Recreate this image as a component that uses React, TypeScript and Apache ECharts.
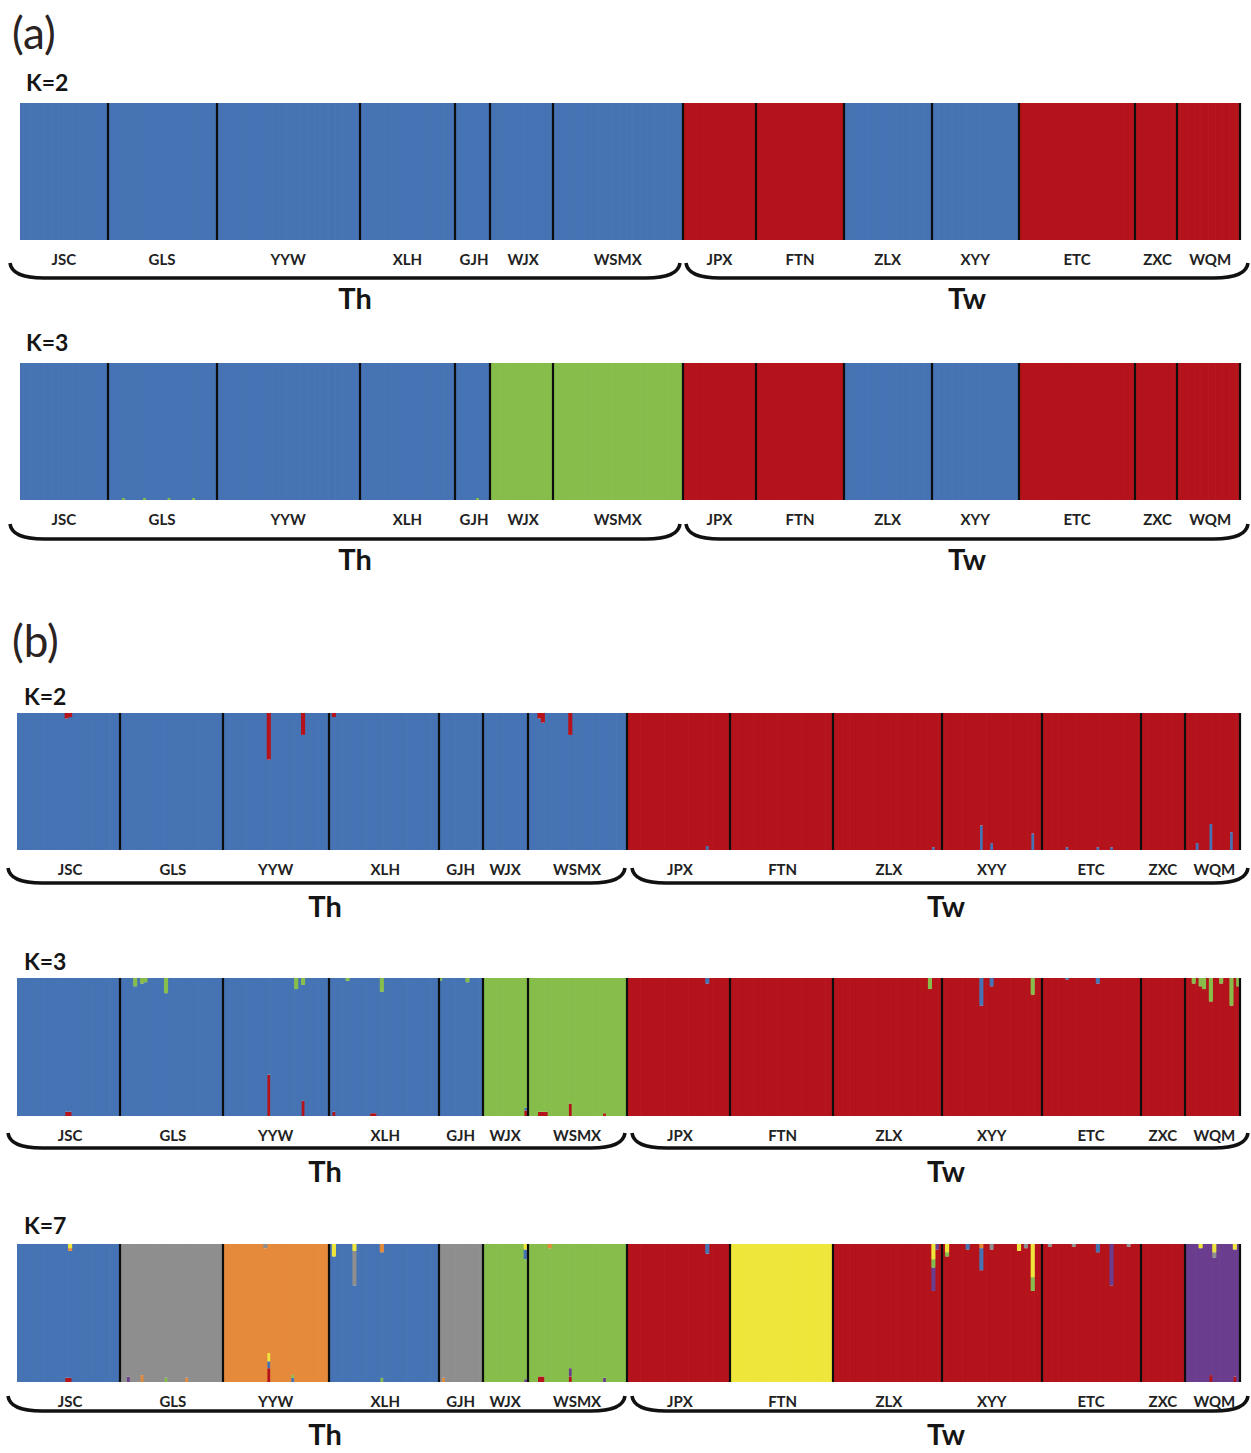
import React, { useEffect, useRef } from "react";
import * as echarts from "echarts";

// ---------- DATA ----------
const POPS = ["JSC", "GLS", "YYW", "XLH", "GJH", "WJX", "WSMX", "JPX", "FTN", "ZLX", "XYY", "ETC", "ZXC", "WQM"];
// individuals per population (a) and (b)
const SIZES_A = [25, 31, 41, 27, 10, 18, 37, 21, 25, 25, 25, 33, 12, 18];
const SIZES_B = [30, 30, 31, 32, 13, 13, 29, 30, 30, 32, 29, 29, 13, 16];

const BLUE = "#4573B3";
const RED = "#B5131C";
const GREEN = "#86BD4B";
const GRAY = "#8E8E8E";
const ORANGE = "#E5893B";
const YELLOW = "#EEE63A";
const PURPLE = "#6A3D8F";

// [population index, individual index in population, cluster, share, position t=top / b=bottom]
type Mix = [number, number, number, number, string];

// (a) K=2
const A_K2_CLUSTERS = [BLUE, RED];
const A_K2_MAIN = [0, 0, 0, 0, 0, 0, 0, 1, 1, 0, 0, 1, 1, 1];
const A_K2_MIX: Mix[] = [];

// (a) K=3
const A_K3_CLUSTERS = [BLUE, RED, GREEN];
const A_K3_MAIN = [0, 0, 0, 0, 0, 2, 2, 1, 1, 0, 0, 1, 1, 1];
const A_K3_MIX: Mix[] = [
  [1, 4, 2, 0.015, "b"], [1, 10, 2, 0.015, "b"], [1, 17, 2, 0.015, "b"], [1, 24, 2, 0.015, "b"],
  [4, 6, 2, 0.015, "b"],
];

// (b) K=2
const B_K2_CLUSTERS = [BLUE, RED];
const B_K2_MAIN = [0, 0, 0, 0, 0, 0, 0, 1, 1, 1, 1, 1, 1, 1];
const B_K2_MIX: Mix[] = [
  [0, 14, 1, 0.04, "t"], [0, 15, 1, 0.03, "t"],
  [2, 13, 1, 0.34, "t"], [2, 23, 1, 0.16, "t"],
  [3, 1, 1, 0.03, "t"],
  [6, 3, 1, 0.04, "t"], [6, 4, 1, 0.07, "t"], [6, 12, 1, 0.16, "t"],
  [7, 23, 0, 0.03, "b"],
  [9, 29, 0, 0.02, "b"],
  [10, 11, 0, 0.18, "b"], [10, 14, 0, 0.05, "b"], [10, 26, 0, 0.12, "b"],
  [11, 7, 0, 0.02, "b"], [11, 16, 0, 0.02, "b"], [11, 20, 0, 0.02, "b"],
  [13, 3, 0, 0.05, "b"], [13, 7, 0, 0.19, "b"], [13, 13, 0, 0.13, "b"],
];

// (b) K=3
const B_K3_CLUSTERS = [RED, BLUE, GREEN];
const B_K3_MAIN = [1, 1, 1, 1, 1, 2, 2, 0, 0, 0, 0, 0, 0, 0];
const B_K3_MIX: Mix[] = [
  [0, 14, 0, 0.03, "b"], [0, 15, 0, 0.03, "b"],
  [1, 4, 2, 0.06, "t"], [1, 6, 2, 0.04, "t"], [1, 7, 2, 0.03, "t"], [1, 13, 2, 0.11, "t"],
  [2, 21, 2, 0.08, "t"], [2, 23, 2, 0.05, "t"], [2, 13, 0, 0.3, "b"], [2, 23, 0, 0.11, "b"],
  [3, 1, 0, 0.03, "b"], [3, 5, 2, 0.02, "t"], [3, 12, 0, 0.02, "b"], [3, 13, 0, 0.02, "b"], [3, 15, 2, 0.1, "t"],
  [4, 0, 2, 0.02, "t"], [4, 8, 2, 0.03, "t"],
  [5, 12, 0, 0.04, "b"], [5, 12, 1, 0.02, "b"],
  [6, 3, 0, 0.03, "b"], [6, 4, 0, 0.03, "b"], [6, 5, 0, 0.03, "b"], [6, 12, 0, 0.09, "b"], [6, 22, 0, 0.02, "b"],
  [7, 23, 1, 0.04, "t"],
  [9, 28, 2, 0.08, "t"],
  [10, 11, 1, 0.2, "t"], [10, 14, 1, 0.06, "t"], [10, 26, 2, 0.12, "t"],
  [11, 7, 1, 0.01, "t"], [11, 16, 1, 0.04, "t"],
  [13, 2, 2, 0.04, "t"], [13, 4, 2, 0.06, "t"], [13, 5, 2, 0.08, "t"], [13, 7, 2, 0.17, "t"],
  [13, 10, 2, 0.04, "t"], [13, 13, 2, 0.2, "t"], [13, 15, 2, 0.06, "t"],
];

// (b) K=7
const B_K7_CLUSTERS = [RED, PURPLE, BLUE, GRAY, ORANGE, GREEN, YELLOW];
const B_K7_MAIN = [2, 3, 4, 2, 3, 5, 5, 0, 6, 0, 0, 0, 0, 1];
const B_K7_MIX: Mix[] = [
  [0, 15, 6, 0.03, "t"], [0, 15, 4, 0.02, "t"], [0, 14, 0, 0.03, "b"], [0, 15, 0, 0.03, "b"],
  [1, 2, 1, 0.04, "b"], [1, 6, 4, 0.05, "b"], [1, 13, 5, 0.03, "b"], [1, 19, 4, 0.03, "b"],
  [2, 12, 3, 0.03, "t"], [2, 13, 0, 0.1, "b"], [2, 13, 2, 0.05, "b"], [2, 13, 6, 0.06, "b"],
  [2, 20, 2, 0.03, "b"], [2, 20, 5, 0.02, "b"],
  [3, 1, 6, 0.09, "t"], [3, 7, 3, 0.25, "t"], [3, 7, 6, 0.05, "t"], [3, 15, 4, 0.06, "t"], [3, 15, 5, 0.03, "b"],
  [4, 1, 4, 0.03, "b"],
  [5, 12, 6, 0.04, "t"], [5, 12, 2, 0.07, "t"], [5, 12, 1, 0.02, "b"],
  [6, 6, 4, 0.03, "t"], [6, 3, 0, 0.04, "b"], [6, 4, 0, 0.04, "b"], [6, 12, 0, 0.04, "b"], [6, 12, 1, 0.06, "b"],
  [6, 22, 1, 0.03, "b"],
  [7, 23, 2, 0.07, "t"],
  [9, 29, 6, 0.11, "t"], [9, 29, 5, 0.06, "t"], [9, 29, 1, 0.17, "t"], [9, 30, 1, 0.04, "t"],
  [10, 1, 6, 0.06, "t"], [10, 1, 5, 0.03, "t"], [10, 7, 2, 0.04, "t"], [10, 11, 4, 0.03, "t"], [10, 11, 2, 0.16, "t"],
  [10, 14, 3, 0.04, "t"], [10, 22, 6, 0.05, "t"], [10, 24, 3, 0.03, "t"], [10, 26, 6, 0.24, "t"], [10, 26, 5, 0.1, "t"],
  [11, 2, 3, 0.02, "t"], [11, 16, 2, 0.06, "t"], [11, 20, 1, 0.3, "t"], [11, 9, 3, 0.02, "t"], [11, 25, 3, 0.02, "t"],
  [13, 4, 6, 0.03, "t"], [13, 8, 6, 0.06, "t"], [13, 8, 3, 0.04, "t"], [13, 14, 6, 0.04, "t"],
  [13, 7, 0, 0.05, "b"], [13, 14, 0, 0.04, "b"],
];

// ---------- LAYOUT ----------
const FONT = "Lato, 'Open Sans', sans-serif";

type Panel = {
  sizes: number[]; clusters: string[]; main: number[]; mix: Mix[];
  left: number; top: number; width: number; height: number;
  title: string; titleX: number; titleY: number;
  braceY: number; groupY: number;
  thL: number; thR: number; twL: number; twR: number; thX: number; twX: number;
};

const PANELS: Panel[] = [
  { sizes: SIZES_A, clusters: A_K2_CLUSTERS, main: A_K2_MAIN, mix: A_K2_MIX,
    left: 20, top: 103, width: 1220, height: 137, title: "K=2", titleX: 26, titleY: 82,
    braceY: 278, groupY: 297, thL: 10, thR: 680, twL: 686, twR: 1248, thX: 355, twX: 967 },
  { sizes: SIZES_A, clusters: A_K3_CLUSTERS, main: A_K3_MAIN, mix: A_K3_MIX,
    left: 20, top: 363, width: 1220, height: 137, title: "K=3", titleX: 26, titleY: 342,
    braceY: 539, groupY: 558, thL: 10, thR: 680, twL: 686, twR: 1248, thX: 355, twX: 967 },
  { sizes: SIZES_B, clusters: B_K2_CLUSTERS, main: B_K2_MAIN, mix: B_K2_MIX,
    left: 17, top: 713, width: 1223, height: 137, title: "K=2", titleX: 24, titleY: 696,
    braceY: 883, groupY: 905, thL: 8, thR: 625, twL: 632, twR: 1248, thX: 325, twX: 946 },
  { sizes: SIZES_B, clusters: B_K3_CLUSTERS, main: B_K3_MAIN, mix: B_K3_MIX,
    left: 17, top: 978, width: 1223, height: 138, title: "K=3", titleX: 24, titleY: 961,
    braceY: 1148, groupY: 1170, thL: 8, thR: 625, twL: 632, twR: 1248, thX: 325, twX: 946 },
  { sizes: SIZES_B, clusters: B_K7_CLUSTERS, main: B_K7_MAIN, mix: B_K7_MIX,
    left: 17, top: 1244, width: 1223, height: 138, title: "K=7", titleX: 24, titleY: 1225,
    braceY: 1411, groupY: 1433, thL: 8, thR: 625, twL: 632, twR: 1248, thX: 325, twX: 946 },
];

function brace(xl: number, xr: number, y: number): any {
  const rise = 15;
  const run = 34;
  const st = { stroke: "#111", lineWidth: 3.6, fill: null };
  return {
    type: "group",
    children: [
      { type: "bezierCurve", shape: { x1: xl, y1: y - rise, x2: xl + run, y2: y, cpx1: xl + 2, cpy1: y }, style: st },
      { type: "line", shape: { x1: xl + run, y1: y, x2: xr - run, y2: y }, style: st },
      { type: "bezierCurve", shape: { x1: xr - run, y1: y, x2: xr, y2: y - rise, cpx1: xr - 2, cpy1: y }, style: st },
    ],
  };
}

function buildOption(): any {
  const grids: any[] = [];
  const xAxes: any[] = [];
  const yAxes: any[] = [];
  const series: any[] = [];
  const graphics: any[] = [
    { type: "text", x: 12, y: 32, style: { text: "(a)", font: `44px ${FONT}`, fill: "#2b2222", verticalAlign: "middle" } },
    { type: "text", x: 12, y: 640, style: { text: "(b)", font: `44px ${FONT}`, fill: "#2b2222", verticalAlign: "middle" } },
  ];

  PANELS.forEach((pn, pi) => {
    const starts: number[] = [];
    let s = 0;
    pn.sizes.forEach((n) => { starts.push(s); s += n; });
    const N = s;
    const K = pn.clusters.length;
    const cats: string[] = [];
    const popOf: number[] = [];
    pn.sizes.forEach((n, p) => {
      for (let i = 0; i < n; i++) { cats.push(POPS[p] + "_" + (i + 1)); popOf.push(p); }
    });
    const bottom: (number | null)[][] = pn.clusters.map(() => new Array(N).fill(null));
    const top: (number | null)[][] = pn.clusters.map(() => new Array(N).fill(null));
    const mainL: (number | null)[][] = pn.clusters.map(() => new Array(N).fill(null));
    const used = new Array(N).fill(0);
    pn.mix.forEach(([p, i, c, v, pos]) => {
      const g = starts[p] + i;
      const arr = pos === "t" ? top : bottom;
      arr[c][g] = (arr[c][g] || 0) + v;
      used[g] += v;
    });
    for (let g = 0; g < N; g++) {
      mainL[pn.main[popOf[g]]][g] = +(1 - used[g]).toFixed(4);
    }
    const boundary = new Set(starts.slice(1));
    const labelIdx = new Set(starts.map((st, p) => st + Math.floor(pn.sizes[p] / 2)));
    // bars slightly wider than their band so that neighbours overlap (no anti-alias seams)
    const barW = pn.width / N + 0.7;

    grids.push({ left: pn.left, top: pn.top, width: pn.width, height: pn.height, containLabel: false });
    xAxes.push({
      type: "category", gridIndex: pi, data: cats, z: 6,
      axisLine: { show: false }, axisTick: { show: false },
      axisLabel: {
        interval: (idx: number) => labelIdx.has(idx),
        formatter: (v: string) => v.split("_")[0],
        fontFamily: FONT, fontWeight: "bold", fontSize: 15, color: "#222", margin: 11,
      },
      splitLine: {
        show: true,
        interval: (idx: number) => boundary.has(idx),
        lineStyle: { color: "#0d0d0d", width: 2.2 },
      },
    });
    yAxes.push({ type: "value", gridIndex: pi, min: 0, max: 1, show: false, splitLine: { show: false } });

    const layers: [(number | null)[][], string][] = [[bottom, "b"], [mainL, "m"], [top, "t"]];
    layers.forEach(([arr, tag]) => {
      for (let c = 0; c < K; c++) {
        if (arr[c].every((v) => v === null)) continue;
        series.push({
          type: "bar", name: `p${pi}_${tag}_${c}`, xAxisIndex: pi, yAxisIndex: pi,
          stack: "s" + pi, data: arr[c], barWidth: barW,
          itemStyle: { color: pn.clusters[c] }, silent: true,
        });
      }
    });

    graphics.push({ type: "text", x: pn.titleX, y: pn.titleY, style: { text: pn.title, font: `bold 23px ${FONT}`, fill: "#151515", verticalAlign: "middle" } });
    graphics.push(brace(pn.thL, pn.thR, pn.braceY));
    graphics.push(brace(pn.twL, pn.twR, pn.braceY));
    graphics.push({ type: "text", x: pn.thX, y: pn.groupY, style: { text: "Th", font: `bold 29px ${FONT}`, fill: "#151515", align: "center", verticalAlign: "middle" } });
    graphics.push({ type: "text", x: pn.twX, y: pn.groupY, style: { text: "Tw", font: `bold 29px ${FONT}`, fill: "#151515", align: "center", verticalAlign: "middle" } });
  });

  return {
    animation: false,
    backgroundColor: "#ffffff",
    grid: grids, xAxis: xAxes, yAxis: yAxes, series,
    graphic: { elements: graphics },
  };
}

export default function App() {
  const ref = useRef<HTMLDivElement>(null);
  useEffect(() => {
    if (!ref.current) return;
    const chart = echarts.init(ref.current, null, { renderer: "svg" });
    chart.setOption(buildOption());
    return () => chart.dispose();
  }, []);
  return <div ref={ref} style={{ position: "absolute", left: 0, top: 0, width: 1251, height: 1453 }} />;
}
